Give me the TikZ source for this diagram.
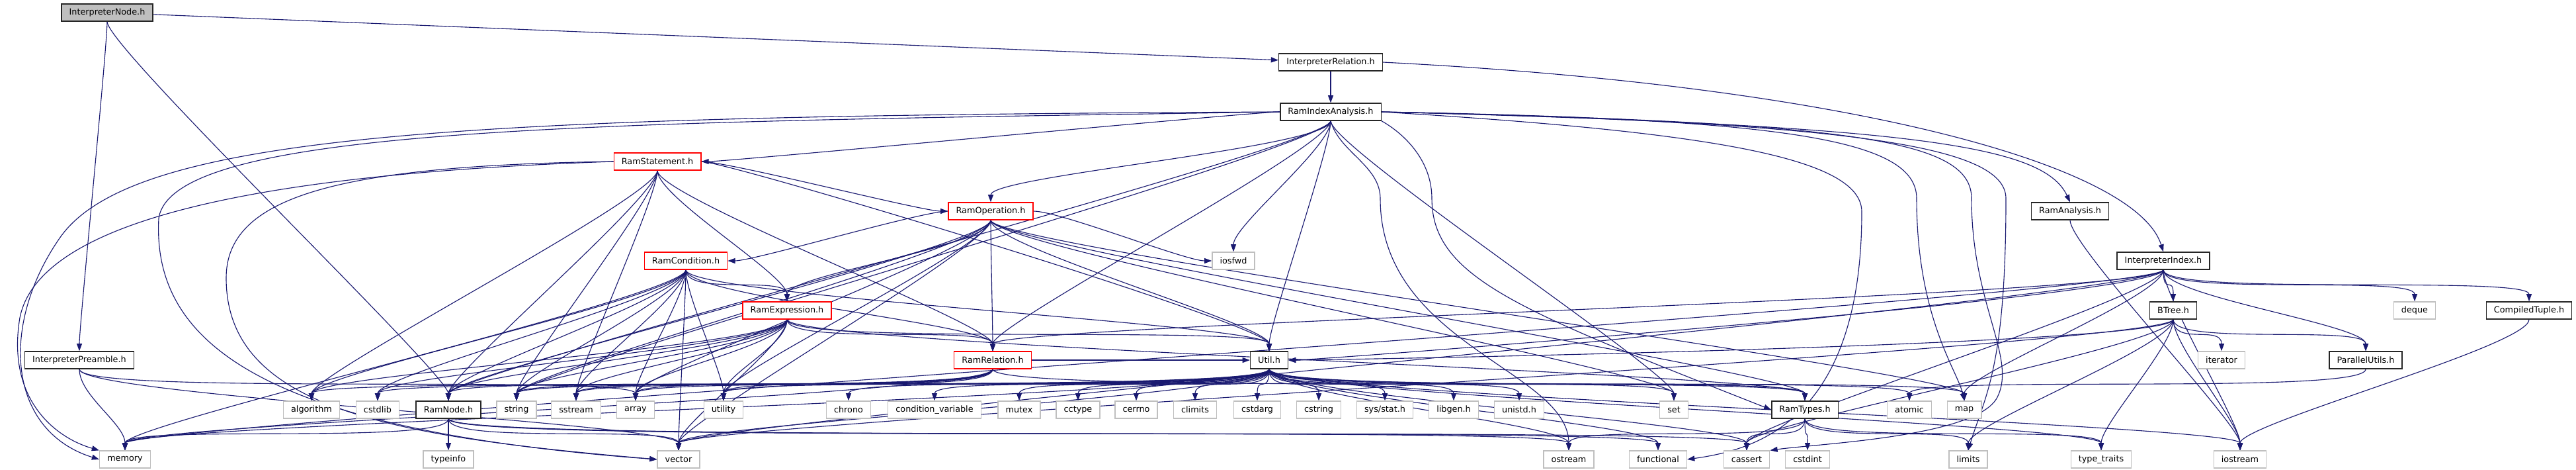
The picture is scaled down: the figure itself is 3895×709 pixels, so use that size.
\documentclass[tikz,border=0pt]{standalone}
\usepackage{fontspec}
\setmainfont{DejaVu Sans}
\usepackage{tikz}
\usetikzlibrary{arrows.meta, backgrounds}
\definecolor{edgeblue}{RGB}{25,25,112}
\definecolor{sysgray}{RGB}{191,191,191}
\definecolor{rootgray}{RGB}{191,191,191}

\begin{document}
\begin{tikzpicture}[x=0.25pt, y=-0.25pt,
    hdrbox/.style={rectangle, draw=black!85, line width=0.33pt, fill=white, minimum height=6.5pt,
        inner xsep=2.9pt, inner ysep=0pt, font=\fontsize{3.2}{3.5}\selectfont},
    rootbox/.style={hdrbox, fill=rootgray},
    redbox/.style={hdrbox, draw=red},
    sysbox/.style={hdrbox, draw=sysgray},
    incl/.style={-{Triangle[length=2.8pt,width=2pt]}, draw=edgeblue, line width=0.28pt,
        out=-90, in=90, distance=10pt}]
    \useasboundingbox (0,0) rectangle (3895,709);

    % rij 1: het bestand zelf
    \node[rootbox] (inode) at (162,19) {InterpreterNode.h};
    % rij 2 en 3
    \node[hdrbox] (irel) at (2012,94) {InterpreterRelation.h};
    \node[hdrbox] (ria) at (2012,169) {RamIndexAnalysis.h};
    % rij 4
    \node[redbox] (rstmt) at (994,244) {RamStatement.h};
    % rij 5
    \node[redbox] (rop) at (1498,319) {RamOperation.h};
    \node[hdrbox] (rana) at (3130,319) {RamAnalysis.h};
    % rij 6
    \node[redbox] (rcond) at (1037,394) {RamCondition.h};
    \node[sysbox] (iosfwd) at (1865,394) {iosfwd};
    \node[hdrbox] (iidx) at (3271,394) {InterpreterIndex.h};
    % rij 7
    \node[redbox] (rexpr) at (1190,469) {RamExpression.h};
    \node[hdrbox] (btree) at (3286,469) {BTree.h};
    \node[sysbox] (deque) at (3651,469) {deque};
    \node[hdrbox] (ctuple) at (3824,469) {CompiledTuple.h};
    % rij 8
    \node[hdrbox] (ipre) at (120,544) {InterpreterPreamble.h};
    \node[redbox] (rrel) at (1501,544) {RamRelation.h};
    \node[hdrbox] (util) at (1919,544) {Util.h};
    \node[sysbox] (iterator) at (3359,544) {iterator};
    \node[hdrbox] (putils) at (3577,544) {ParallelUtils.h};
    % rij 9
    \node[sysbox] (algo) at (471,619) {algorithm};
    \node[sysbox] (cstdlib) at (571,619) {cstdlib};
    \node[hdrbox] (ramnode) at (678,619) {RamNode.h};
    \node[sysbox] (str) at (781,619) {string};
    \node[sysbox] (sstream) at (871,619) {sstream};
    \node[sysbox] (arr) at (961,619) {array};
    \node[sysbox] (utility) at (1094,619) {utility};
    \node[sysbox] (chrono) at (1283,619) {chrono};
    \node[sysbox] (condvar) at (1413,619) {condition\_variable};
    \node[sysbox] (mutex) at (1541,619) {mutex};
    \node[sysbox] (cctype) at (1630,619) {cctype};
    \node[sysbox] (cerrno) at (1718,619) {cerrno};
    \node[sysbox] (climits) at (1807,619) {climits};
    \node[sysbox] (cstdarg) at (1901,619) {cstdarg};
    \node[sysbox] (cstring) at (1994,619) {cstring};
    \node[sysbox] (sysstat) at (2094,619) {sys/stat.h};
    \node[sysbox] (libgen) at (2198,619) {libgen.h};
    \node[sysbox] (unistd) at (2297,619) {unistd.h};
    \node[sysbox] (set) at (2531,619) {set};
    \node[hdrbox] (ramtypes) at (2729,619) {RamTypes.h};
    \node[sysbox] (atomic) at (2887,619) {atomic};
    \node[sysbox] (map) at (2970,619) {map};
    % rij 10
    \node[sysbox] (memory) at (189,694) {memory};
    \node[sysbox] (typeinfo) at (678,694) {typeinfo};
    \node[sysbox] (vector) at (1026,694) {vector};
    \node[sysbox] (ostream) at (2372,694) {ostream};
    \node[sysbox] (functional) at (2507,694) {functional};
    \node[sysbox] (cassert) at (2641,694) {cassert};
    \node[sysbox] (cstdint) at (2733,694) {cstdint};
    \node[sysbox] (limits) at (2976,694) {limits};
    \node[sysbox] (typetraits) at (3177,694) {type\_traits};
    \node[sysbox] (iostream) at (3387,694) {iostream};

    \begin{pgfonlayer}{background}
    % InterpreterNode.h
    \draw[incl] (inode) -- (irel);
    \draw[incl] (inode) to (ipre);
    \draw[incl] (inode) to (ramnode);
    % InterpreterRelation.h
    \draw[incl] (irel) to (ria);
    \draw[incl] (irel.east) .. controls (2800,130) and (3230,250) .. (iidx.north);
    % RamIndexAnalysis.h
    \draw[incl] (ria) to[out=180,in=0] (rstmt);
    \draw[incl] (ria) to (rop);
    \draw[incl] (ria) to (rrel);
    \draw[incl] (ria) to (ramnode);
    \draw[incl] (ria) to (util);
    \draw[incl] (ria) to (iosfwd);
    \draw[incl] (ria) to (str);
    \draw[incl] (ria) to (set);
    \draw[incl] (ria.east) .. controls (2900,190) and (3090,220) .. (rana.north);
    \draw[incl] (ria.west) .. controls (700,175) and (200,200) .. (90,360) .. controls (0,490) and (10,650) .. (memory.west);
    \draw[incl] (ria.west) .. controls (900,185) and (260,190) .. (240,330) .. controls (230,520) and (400,650) .. (vector.west);
    \draw[incl] (ria.east) .. controls (2700,180) and (2898,210) .. (2898,300) .. controls (2898,480) and (2960,560) .. (map.north);
    \draw[incl] (ria.east) .. controls (2800,185) and (3033,220) .. (3033,300) .. controls (3033,560) and (3000,600) .. (limits.north);
    \draw[incl] (ria.east) .. controls (2800,185) and (2981,210) .. (2981,300) .. controls (2981,460) and (3050,540) .. (3020,600) .. controls (2990,660) and (2750,670) .. (cassert.north east);
    \draw[incl] (ria.east) .. controls (2600,200) and (2815,240) .. (2815,320) .. controls (2815,640) and (2650,680) .. (functional.east);
    \draw[incl] (ria.south) .. controls (2025,230) and (2087,250) .. (2087,300) .. controls (2087,520) and (2372,560) .. (ostream.north);
    \draw[incl] (ria.south east) .. controls (2120,200) and (2165,240) .. (2165,300) .. controls (2165,420) and (2300,470) .. (ramtypes.west);
    % RamStatement.h
    \draw[incl] (rstmt) to[out=0,in=180] (rop);
    \draw[incl] (rstmt) to (rexpr);
    \draw[incl] (rstmt) to (rrel);
    \draw[incl] (rstmt) to[out=0] (util);
    \draw[incl] (rstmt) to (ramnode);
    \draw[incl] (rstmt) to (str);
    \draw[incl] (rstmt) to (algo);
    \draw[incl] (rstmt) to (sstream);
    \draw[incl] (rstmt.west) .. controls (400,262) and (60,330) .. (30,480) .. controls (10,600) and (80,660) .. (memory.north west);
    \draw[incl] (rstmt.west) .. controls (500,250) and (342,300) .. (342,420) .. controls (342,620) and (600,660) .. (vector.west);
    % RamOperation.h
    \draw[incl] (rop) to[out=180,in=0] (rcond);
    \draw[incl] (rop) to (rexpr);
    \draw[incl] (rop) to (rrel);
    \draw[incl] (rop) to (util);
    \draw[incl] (rop) to (ramnode);
    \draw[incl] (rop) to (ramtypes);
    \draw[incl] (rop) to[out=0,in=180] (iosfwd);
    \draw[incl] (rop) to (str);
    \draw[incl] (rop) to (vector);
    \draw[incl] (rop) to (arr);
    \draw[incl] (rop) to (utility);
    \draw[incl] (rop) to (set);
    \draw[incl] (rop) to (map);
    % RamCondition.h
    \draw[incl] (rcond) to (rexpr);
    \draw[incl] (rcond) to (rrel);
    \draw[incl] (rcond) to (util);
    \draw[incl] (rcond) to (ramnode);
    \draw[incl] (rcond) to (memory);
    \draw[incl] (rcond) to (algo);
    \draw[incl] (rcond) to (cstdlib);
    \draw[incl] (rcond) to (str);
    \draw[incl] (rcond) to (sstream);
    \draw[incl] (rcond) to (arr);
    \draw[incl] (rcond) to (utility);
    \draw[incl] (rcond) to (vector);
    % RamExpression.h
    \draw[incl] (rexpr) to (rrel);
    \draw[incl] (rexpr) to (util);
    \draw[incl] (rexpr) to (ramnode);
    \draw[incl] (rexpr) to (algo);
    \draw[incl] (rexpr) to (cstdlib);
    \draw[incl] (rexpr) to (str);
    \draw[incl] (rexpr) to (sstream);
    \draw[incl] (rexpr) to (arr);
    \draw[incl] (rexpr) to (utility);
    \draw[incl] (rexpr) to (vector);
    \draw[incl] (rexpr) to (ramtypes);
    % RamRelation.h
    \draw[incl] (rrel) to[out=0,in=180] (util);
    \draw[incl] (rrel) to (ramnode);
    \draw[incl] (rrel) to (ramtypes);
    \draw[incl] (rrel) to (str);
    \draw[incl] (rrel) to (sstream);
    \draw[incl] (rrel) to (arr);
    \draw[incl] (rrel) to (utility);
    \draw[incl] (rrel) to (memory);
    % InterpreterIndex.h
    \draw[incl] (iidx) to (btree);
    \draw[incl] (iidx) to (putils);
    \draw[incl] (iidx) to (deque);
    \draw[incl] (iidx) to (ctuple);
    \draw[incl] (iidx) to[in=0] (util);
    \draw[incl] (iidx) to (rrel);
    \draw[incl] (iidx) to (map);
    \draw[incl] (iidx) to (cassert);
    \draw[incl] (iidx) to (vector);
    \draw[incl] (iidx) to (iostream);
    \draw[incl] (iidx) to (memory);
    % BTree.h
    \draw[incl] (btree) to[in=0] (util);
    \draw[incl] (btree) to (putils);
    \draw[incl] (btree) to (iterator);
    \draw[incl] (btree) to (iostream);
    \draw[incl] (btree) to (cassert);
    \draw[incl] (btree) to (vector);
    \draw[incl] (btree) to (typetraits);
    \draw[incl] (btree) to (limits);
    % overige headers
    \draw[incl] (putils) to (atomic);
    \draw[incl] (rana) to (iostream);
    \draw[incl] (ctuple) to (iostream);
    \draw[incl] (ipre) to (memory);
    \draw[incl] (ipre) to (vector);
    \draw[incl] (ipre) to (arr);
    % RamNode.h
    \draw[incl] (ramnode) to (memory);
    \draw[incl] (ramnode) to (typeinfo);
    \draw[incl] (ramnode) to (vector);
    \draw[incl] (ramnode) to (functional);
    \draw[incl] (ramnode) to (cassert);
    \draw[incl] (ramnode) to (ostream);
    % RamTypes.h
    \draw[incl] (ramtypes) to (cassert);
    \draw[incl] (ramtypes) to (cstdint);
    \draw[incl] (ramtypes) to (limits);
    \draw[incl] (ramtypes) to (typetraits);
    \draw[incl] (ramtypes) to (ostream);
    % Util.h
    \draw[incl] (util) to (ramtypes);
    \draw[incl] (util) to (algo);
    \draw[incl] (util) to (cstdlib);
    \draw[incl] (util) to (str);
    \draw[incl] (util) to (sstream);
    \draw[incl] (util) to (arr);
    \draw[incl] (util) to (utility);
    \draw[incl] (util) to (chrono);
    \draw[incl] (util) to (condvar);
    \draw[incl] (util) to (mutex);
    \draw[incl] (util) to (cctype);
    \draw[incl] (util) to (cerrno);
    \draw[incl] (util) to (climits);
    \draw[incl] (util) to (cstdarg);
    \draw[incl] (util) to (cstring);
    \draw[incl] (util) to (sysstat);
    \draw[incl] (util) to (libgen);
    \draw[incl] (util) to (unistd);
    \draw[incl] (util) to (set);
    \draw[incl] (util) to (atomic);
    \draw[incl] (util) to (map);
    \draw[incl] (util) to (memory);
    \draw[incl] (util) to (vector);
    \draw[incl] (util) to (ostream);
    \draw[incl] (util) to (functional);
    \draw[incl] (util) to (cassert);
    \draw[incl] (util) to (iostream);
    \draw[incl] (util) to (typetraits);
    \end{pgfonlayer}
\end{tikzpicture}
\end{document}
